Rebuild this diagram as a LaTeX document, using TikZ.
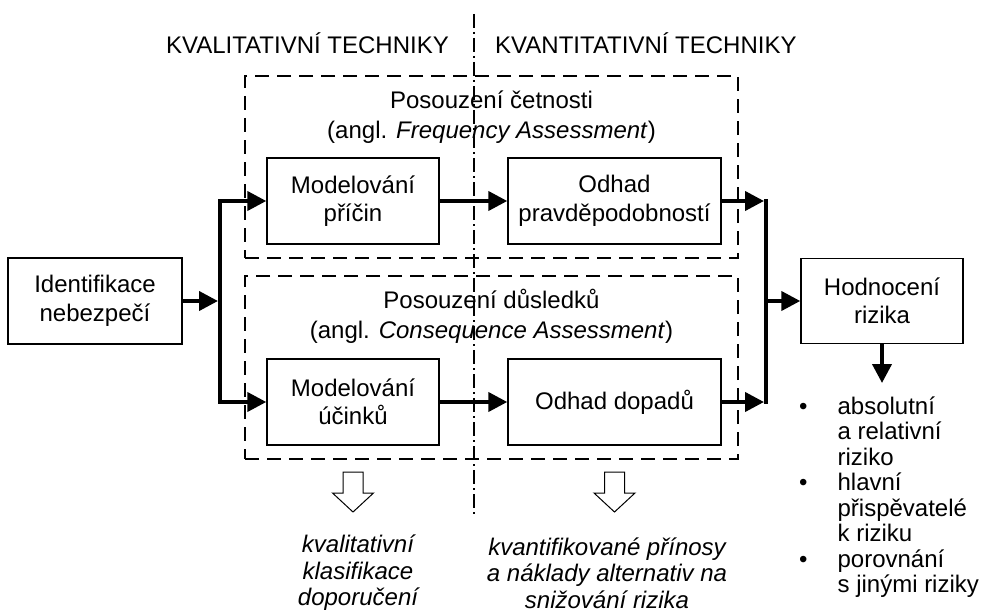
\documentclass[tikz,border=0pt]{standalone}
\usepackage{fontspec}
\setmainfont{Liberation Sans}
\usetikzlibrary{arrows.meta}
\begin{document}
\begin{tikzpicture}[x=1pt,y=-1pt,
  font=\fontsize{24}{28.5}\selectfont,
  box/.style={draw, line width=1.4pt, align=center, inner sep=0pt},
  grp/.style={draw, line width=1.3pt, dash pattern=on 14pt off 8pt, inner sep=0pt},
  axisline/.style={line width=1.2pt, dash pattern=on 14pt off 4pt on 2pt off 4pt},
  flow/.style={line width=4pt, -{Triangle[length=19pt,width=19pt]}},
  busline/.style={line width=4pt},
  hollow/.style={draw, line width=1pt, fill=white},
  txt/.style={align=center, inner sep=0pt}
]
\useasboundingbox (0,0) rectangle (984,615);

% axis between qualitative and quantitative
\coordinate (axtop) at (474,14);
\coordinate (axbot) at (474,517);
\draw[axisline] (axtop) -- (axbot);

% titles
\node[anchor=base east, inner sep=0pt] (tql) at (449,54) {KVALITATIVNÍ TECHNIKY};
\node[anchor=base west, inner sep=0pt] (tqn) at (495,54) {KVANTITATIVNÍ TECHNIKY};

% dashed groups
\node[grp, minimum width=493, minimum height=182] (g1) at (491.5,167) {};
\node[grp, minimum width=493, minimum height=183] (g2) at (491.5,367.5) {};

\node[txt, font=\fontsize{24}{30}\selectfont] (g1t) at (491.5,117) {Posouzení četnosti\\(angl. \textit{Frequency Assessment})};
\node[txt, font=\fontsize{24}{30}\selectfont] (g2t) at (491.5,316) {Posouzení důsledků\\(angl. \textit{Consequence Assessment})};

% boxes
\node[box, minimum width=174, minimum height=86] (id) at (95,301) {Identifikace\\nebezpečí};
\node[box, minimum width=172, minimum height=86] (m1) at (353,201) {Modelování\\příčin};
\node[box, minimum width=213, minimum height=86] (o1) at (614.5,201) {Odhad\\pravděpodobností};
\node[box, minimum width=172, minimum height=86] (m2) at (353,402) {Modelování\\účinků};
\node[box, minimum width=213, minimum height=86] (o2) at (614.5,402) {Odhad dopadů};
\node[box, minimum width=162, minimum height=85] (h) at (882,301) {Hodnocení\\rizika};

% buses
\coordinate (lbus) at (220,0);
\coordinate (rbus) at (766,0);
\coordinate (hend) at (882,383);

\draw[flow] (id.east) -- ([xshift=-2pt]id.east -| lbus);
\draw[busline] ([yshift=2pt]m1.west -| lbus) -- ([yshift=-2pt]m2.west -| lbus);
\draw[flow] (m1.west -| lbus) -- (m1.west);
\draw[flow] (m2.west -| lbus) -- (m2.west);
\draw[flow] (m1.east) -- (o1.west);
\draw[flow] (m2.east) -- (o2.west);
\draw[flow] (o1.east) -- ([xshift=-2pt]o1.east -| rbus);
\draw[flow] (o2.east) -- ([xshift=-2pt]o2.east -| rbus);
\draw[busline] ([yshift=2pt]o1.east -| rbus) -- ([yshift=-2pt]o2.east -| rbus);
\draw[flow] (h.west -| rbus) -- (h.west);
\draw[flow] (h.south) -- (hend);

% hollow arrows
\coordinate (ha1) at (353,472);
\coordinate (ha2) at (614.5,472);
\draw[hollow] (ha1) ++(-10,0) -- ++(20,0) -- ++(0,21) -- ++(10.5,0) -- ++(-20.5,19) -- ++(-20.5,-19) -- ++(10.5,0) -- cycle;
\draw[hollow] (ha2) ++(-10,0) -- ++(20,0) -- ++(0,21) -- ++(10.5,0) -- ++(-20.5,19) -- ++(-20.5,-19) -- ++(10.5,0) -- cycle;

% outcomes
\node[txt, font=\fontsize{24}{26.5}\selectfont\itshape] (outl) at (358,573) {kvalitativní\\klasifikace\\doporučení};
\node[txt, font=\fontsize{24}{26.5}\selectfont\itshape] (outr) at (607,573) {kvantifikované přínosy\\a náklady alternativ na\\snižování rizika};

\node[anchor=north west, inner sep=0pt, font=\fontsize{24}{25.5}\selectfont] (res) at (799,396) {\begin{tabular}{@{}l@{\hspace{30pt}}l@{}}
\textbullet & absolutní\\
 & a relativní\\
 & riziko\\
\textbullet & hlavní\\
 & přispěvatelé\\
 & k riziku\\
\textbullet & porovnání\\
 & s jinými riziky
\end{tabular}};
\end{tikzpicture}
\end{document}
